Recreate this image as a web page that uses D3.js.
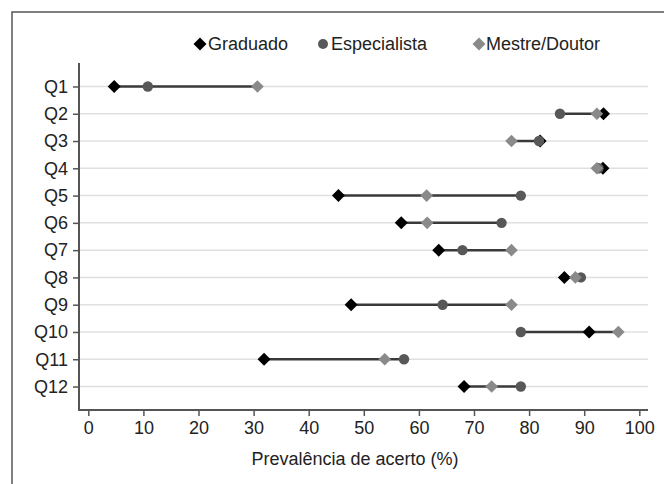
<!DOCTYPE html>
<html><head><meta charset="utf-8">
<script src="https://cdn.jsdelivr.net/npm/d3@7"></script>
<style>body{margin:0;background:#fff}svg{display:block}text{font-family:"Liberation Sans",Arial,sans-serif;fill:#222}</style>
</head><body><svg id="c" width="664" height="484"></svg>
<script>
const questions = ["Q1","Q2","Q3","Q4","Q5","Q6","Q7","Q8","Q9","Q10","Q11","Q12"];
const graduado    = [4.7, 93.5, 82.0, 93.4, 45.4, 56.8, 63.6, 86.4, 47.7, 90.9, 31.9, 68.2];
const especialista= [10.8, 85.6, 81.8, 92.6, 78.5, 75.0, 67.9, 89.4, 64.3, 78.5, 57.3, 78.5];
const mestre      = [30.7, 92.3, 76.8, 92.3, 61.4, 61.5, 76.8, 88.4, 76.8, 96.2, 53.8, 73.2];
const xTicks = [0,10,20,30,40,50,60,70,80,90,100];
const seriesNames = ["Graduado","Especialista","Mestre/Doutor"];

const FS = 18;
const svg = d3.select("#c");
const x = d3.scaleLinear().domain([0,100]).range([88.3,639.3]);
const y = d3.scalePoint().domain(questions).range([63,410]).padding(0.86);
const axL = 79, axR = 648, axB = 410, axT = 63;
const diamond = h => `M0,${-h}L${h},0L0,${h}L${-h},0Z`;

// outer frame
svg.append("path").attr("d","M12,484V12H664").attr("fill","none").attr("stroke","#555").attr("stroke-width",1.5);

// grid
svg.append("g").selectAll("line").data(questions).join("line")
  .attr("x1",axL).attr("x2",axR).attr("y1",d=>y(d)).attr("y2",d=>y(d))
  .attr("stroke","#e0e0e0").attr("stroke-width",1.5);

// axes
const xAxis = svg.append("g").attr("transform",`translate(0,${axB})`)
  .call(d3.axisBottom(x).tickValues(xTicks).tickSize(6).tickPadding(5));
xAxis.select(".domain").remove();
xAxis.selectAll("line").attr("stroke","#555").attr("stroke-width",1.5);
xAxis.selectAll("text").attr("font-size",FS).attr("fill","#222").attr("font-family","Liberation Sans, Arial, sans-serif");
const yAxis = svg.append("g").attr("transform",`translate(${axL},0)`)
  .call(d3.axisLeft(y).tickSize(6).tickPadding(5));
yAxis.select(".domain").remove();
yAxis.selectAll("line").attr("stroke","#555").attr("stroke-width",1.5);
yAxis.selectAll("text").attr("font-size",FS).attr("fill","#222").attr("font-family","Liberation Sans, Arial, sans-serif");
svg.append("path").attr("d",`M${axL},${axT}V${axB}H${axR}`).attr("fill","none").attr("stroke","#555").attr("stroke-width",2);

// connecting lines
const rows = questions.map((q,i)=>({q, g:graduado[i], e:especialista[i], m:mestre[i]}));
svg.append("g").selectAll("line").data(rows).join("line")
  .attr("x1",d=>x(Math.min(d.g,d.e,d.m))).attr("x2",d=>x(Math.max(d.g,d.e,d.m)))
  .attr("y1",d=>y(d.q)).attr("y2",d=>y(d.q))
  .attr("stroke","#3a3a3a").attr("stroke-width",2.5);

// markers
svg.append("g").selectAll("path").data(rows).join("path")
  .attr("d",diamond(6.5)).attr("transform",d=>`translate(${x(d.g)},${y(d.q)})`).attr("fill","#000");
svg.append("g").selectAll("circle").data(rows).join("circle")
  .attr("cx",d=>x(d.e)).attr("cy",d=>y(d.q)).attr("r",5.2).attr("fill","#585858");
svg.append("g").selectAll("path").data(rows).join("path")
  .attr("d",diamond(6.3)).attr("transform",d=>`translate(${x(d.m)},${y(d.q)})`).attr("fill","#8a8a8a");

// legend
const leg = svg.append("g");
const legItems = [
  {name:seriesNames[0], cx:200, tx:208, kind:"d", fill:"#000"},
  {name:seriesNames[1], cx:323, tx:331, kind:"c", fill:"#585858"},
  {name:seriesNames[2], cx:479, tx:486, kind:"d", fill:"#8a8a8a"}
];
legItems.forEach(it=>{
  if(it.kind==="d") leg.append("path").attr("d",diamond(6.5)).attr("transform",`translate(${it.cx},44)`).attr("fill",it.fill);
  else leg.append("circle").attr("cx",it.cx).attr("cy",44).attr("r",5).attr("fill",it.fill);
  leg.append("text").attr("x",it.tx).attr("y",50).attr("font-size",FS).text(it.name);
});

// x label
svg.append("text").attr("x",(253+457)/2).attr("y",465).attr("text-anchor","middle").attr("font-size",FS).text("Prevalência de acerto (%)");
</script></body></html>
